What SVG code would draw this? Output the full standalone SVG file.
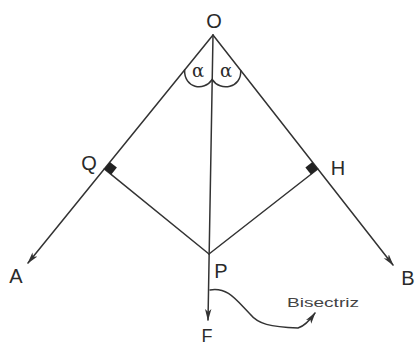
<svg xmlns="http://www.w3.org/2000/svg" width="417" height="345" viewBox="0 0 417 345">
<style>
.ln{stroke:#333;stroke-width:1.5;fill:none;stroke-linecap:round}
.lb{font-family:"Liberation Sans",Arial,sans-serif;font-size:20px;fill:#2a2a2a}
.al{font-family:"DejaVu Serif","Liberation Serif",serif;font-size:18px;fill:#2a2a2a}
.sm{font-family:"Liberation Sans",Arial,sans-serif;font-size:13px;fill:#444}
.sq{fill:#222}
</style>
<defs>
<marker id="ah" viewBox="0 0 12 8" refX="11" refY="4" markerWidth="12" markerHeight="8" markerUnits="userSpaceOnUse" orient="auto">
<path d="M0,0.8 L12,4 L0,7.2 L3,4 Z" fill="#333"/>
</marker>
</defs>
<rect width="417" height="345" fill="#fff"/>
<g id="connectors">
<line class="ln" x1="213" y1="35" x2="28" y2="263" marker-end="url(#ah)"/>
<line class="ln" x1="213" y1="35" x2="393" y2="265" marker-end="url(#ah)"/>
<line class="ln" x1="213" y1="35" x2="208" y2="320" marker-end="url(#ah)"/>
<line class="ln" x1="209" y1="254" x2="104.3" y2="168.9"/>
<line class="ln" x1="209" y1="254" x2="317.8" y2="169"/>
<path class="ln" d="M184.6,70 C184,88 204,92 212.2,79.5"/>
<path class="ln" d="M212.2,79.5 C220,92 242,88 240.7,70.4"/>
<path class="ln" d="M210,290 C228,287 236,300 250,314 C258,324 270,327 298,328 C305,326 310,320 315,313" marker-end="url(#ah)"/>
</g>
<g id="angles">
<text class="al" x="198" y="77" text-anchor="middle">α</text>
<text class="al" x="226" y="77" text-anchor="middle">α</text>
</g>
<g id="O"><text class="lb" x="214" y="28" text-anchor="middle">O</text></g>
<g id="Q">
<text class="lb" x="89" y="170" text-anchor="middle">Q</text>
<polygon class="sq" points="104.3,168.9 109.9,162 116.9,167.6 111.3,174.5"/>
</g>
<g id="H">
<text class="lb" x="338" y="175" text-anchor="middle">H</text>
<polygon class="sq" points="317.8,169 312.3,162 305.4,167.5 310.9,174.5"/>
</g>
<g id="A"><text class="lb" x="16" y="283" text-anchor="middle">A</text></g>
<g id="B"><text class="lb" x="408" y="285" text-anchor="middle">B</text></g>
<g id="P"><text class="lb" x="221" y="278" text-anchor="middle">P</text></g>
<g id="F"><text class="lb" x="207" y="342" text-anchor="middle" style="font-size:18px">F</text></g>
<g id="label"><text class="sm" x="323" y="307" text-anchor="middle" textLength="72" lengthAdjust="spacingAndGlyphs">Bisectriz</text></g>
</svg>
